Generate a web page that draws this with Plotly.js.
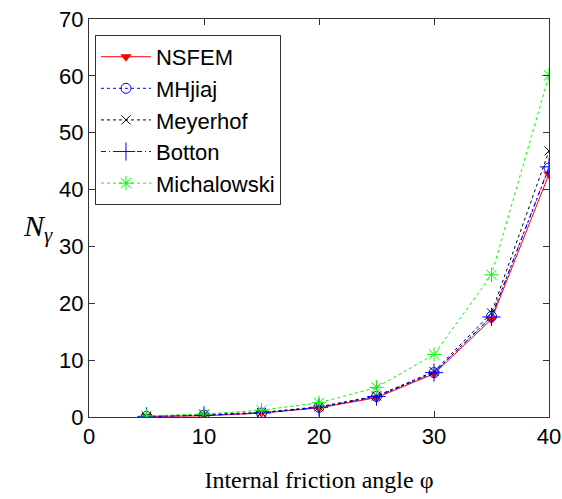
<!DOCTYPE html>
<html>
<head>
<meta charset="utf-8">
<script src="https://cdn.plot.ly/plotly-3.0.1.min.js"></script>
<style>html,body{margin:0;padding:0;background:#fff;}#chart{width:562px;height:499px;}</style>
</head>
<body>
<div id="chart"></div>
<script>
const angles = [5, 10, 15, 20, 25, 30, 35, 40];
const nsfem = [0.1, 0.2, 0.7, 1.6, 3.4, 7.6, 17.2, 42.7];
const mhjiaj = [0.1, 0.3, 0.7, 1.7, 3.6, 7.8, 17.7, 43.8];
const meyerhof = [0.1, 0.4, 0.8, 1.8, 3.7, 8.0, 18.3, 46.8];
const botton = [0.1, 0.3, 0.7, 1.7, 3.6, 7.8, 17.6, 44.0];
const michalowski = [0.2, 0.5, 1.2, 2.5, 5.2, 11.0, 25.0, 60.1];
const xTicks = [0, 10, 20, 30, 40];
const yTicks = [0, 10, 20, 30, 40, 50, 60, 70];

const traces = [
  {x: angles, y: nsfem, name: 'NSFEM', mode: 'lines+markers',
   line: {color: '#ff0000', width: 1, dash: 'solid'},
   marker: {symbol: 'triangle-down', size: 10, color: '#ff0000'}},
  {x: angles, y: mhjiaj, name: 'MHjiaj', mode: 'lines+markers',
   line: {color: '#0000ff', width: 1, dash: '3px,3px'},
   marker: {symbol: 'circle-open', size: 10, color: '#0000ff', line: {width: 1}}},
  {x: angles, y: meyerhof, name: 'Meyerhof', mode: 'lines+markers',
   line: {color: '#000000', width: 1, dash: '3px,3px'},
   marker: {symbol: 'x-thin-open', size: 9, color: '#000000', line: {width: 1, color: '#000000'}}},
  {x: angles, y: botton, name: 'Botton', mode: 'lines+markers',
   line: {color: '#0000ff', width: 1, dash: '5px,3px,1px,3px'},
   marker: {symbol: 'cross-thin-open', size: 13, color: '#0000ff', line: {width: 1, color: '#0000ff'}}},
  {x: angles, y: michalowski, name: 'Michalowski', mode: 'lines+markers',
   line: {color: '#00ff00', width: 1, dash: '3px,3px'},
   marker: {symbol: 'asterisk-open', size: 12, color: '#00ff00', line: {width: 1, color: '#00ff00'}}}
];

const axisCommon = {
  showgrid: false, zeroline: false, showline: true, mirror: 'ticks',
  linecolor: '#333', linewidth: 1, ticks: 'inside', ticklen: 6, tickcolor: '#333',
  tickfont: {family: 'Liberation Sans, Arial, sans-serif', size: 22, color: '#000'}
};

const layout = {
  width: 562, height: 499,
  margin: {l: 89, r: 13, t: 19, b: 82},
  paper_bgcolor: '#fff', plot_bgcolor: '#fff',
  showlegend: true,
  xaxis: Object.assign({}, axisCommon, {
    range: [0, 40], tickvals: xTicks, ticktext: xTicks.map(String),
    title: {text: 'Internal friction angle φ', standoff: 22,
      font: {family: 'Liberation Serif, Times New Roman, serif', size: 24, color: '#000'}}
  }),
  yaxis: Object.assign({}, axisCommon, {
    range: [0, 70], tickvals: yTicks, ticktext: yTicks.map(String)
  }),
  legend: {
    x: 0.013, y: 0.96, xanchor: 'left', yanchor: 'top',
    bgcolor: '#fff', bordercolor: '#333', borderwidth: 1,
    font: {family: 'Liberation Sans, Arial, sans-serif', size: 22, color: '#000'},
    tracegroupgap: 0, itemwidth: 50
  },
  annotations: [{
    xref: 'paper', yref: 'paper', x: -0.075, y: 0.475, xanchor: 'right', yanchor: 'middle',
    text: '<i>N</i><sub><i>γ</i></sub>', showarrow: false,
    font: {family: 'Liberation Serif, Times New Roman, serif', size: 30, color: '#000'}
  }]
};

Plotly.newPlot('chart', traces, layout, {displayModeBar: false, staticPlot: true});
</script>
</body>
</html>
